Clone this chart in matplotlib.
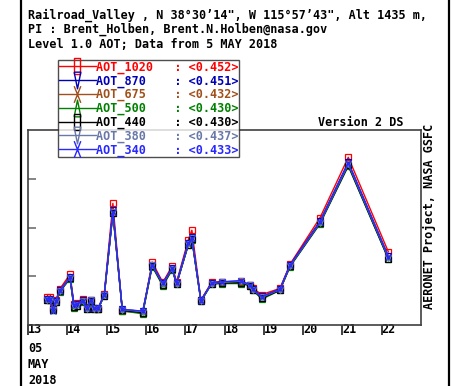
import matplotlib
matplotlib.use("Agg")
import matplotlib.pyplot as plt
from matplotlib.lines import Line2D
from matplotlib.path import Path

# measurement times (day of May 2018)
days = [13.48, 13.56, 13.64, 13.71, 13.81, 14.07, 14.17, 14.25, 14.39, 14.49,
        14.60, 14.68, 14.78, 14.94, 15.16, 15.40, 15.92, 16.16, 16.43, 16.67,
        16.78, 17.08, 17.17, 17.40, 17.67, 17.93, 18.41, 18.65, 18.72, 18.95,
        19.41, 19.67, 20.43, 21.15, 22.17]

aot_1020 = [0.115, 0.113, 0.068, 0.103, 0.148, 0.208, 0.086, 0.090, 0.108, 0.072,
            0.104, 0.070, 0.066, 0.128, 0.499, 0.057, 0.050, 0.258, 0.175, 0.242,
            0.176, 0.350, 0.389, 0.102, 0.175, 0.178, 0.176, 0.166, 0.150, 0.125,
            0.150, 0.250, 0.440, 0.688, 0.300]
aot_870 = [0.106, 0.105, 0.064, 0.098, 0.142, 0.197, 0.083, 0.087, 0.102, 0.070,
           0.103, 0.069, 0.068, 0.124, 0.470, 0.064, 0.056, 0.248, 0.172, 0.234,
           0.172, 0.338, 0.362, 0.101, 0.172, 0.177, 0.180, 0.165, 0.147, 0.117,
           0.147, 0.247, 0.426, 0.668, 0.282]
aot_675 = [0.104, 0.103, 0.063, 0.096, 0.139, 0.193, 0.076, 0.082, 0.098, 0.067,
           0.099, 0.066, 0.066, 0.122, 0.463, 0.061, 0.052, 0.244, 0.166, 0.230,
           0.169, 0.332, 0.354, 0.099, 0.170, 0.173, 0.175, 0.163, 0.145, 0.111,
           0.144, 0.243, 0.420, 0.658, 0.275]
aot_500 = [0.102, 0.101, 0.061, 0.094, 0.137, 0.190, 0.070, 0.077, 0.096, 0.065,
           0.096, 0.064, 0.064, 0.120, 0.458, 0.058, 0.046, 0.240, 0.160, 0.227,
           0.167, 0.328, 0.350, 0.097, 0.168, 0.170, 0.170, 0.161, 0.143, 0.106,
           0.142, 0.240, 0.415, 0.652, 0.270]
aot_440 = [0.103, 0.102, 0.062, 0.095, 0.138, 0.192, 0.074, 0.080, 0.097, 0.066,
           0.098, 0.066, 0.065, 0.121, 0.460, 0.060, 0.051, 0.243, 0.165, 0.229,
           0.168, 0.330, 0.352, 0.098, 0.169, 0.172, 0.174, 0.162, 0.144, 0.110,
           0.143, 0.242, 0.418, 0.655, 0.272]
aot_380 = [0.104, 0.104, 0.060, 0.096, 0.140, 0.194, 0.080, 0.084, 0.099, 0.067,
           0.101, 0.067, 0.067, 0.122, 0.462, 0.063, 0.055, 0.245, 0.169, 0.231,
           0.170, 0.333, 0.355, 0.099, 0.170, 0.175, 0.179, 0.163, 0.145, 0.114,
           0.145, 0.244, 0.420, 0.660, 0.276]
aot_340 = [0.105, 0.105, 0.059, 0.097, 0.141, 0.195, 0.082, 0.086, 0.100, 0.068,
           0.102, 0.068, 0.068, 0.123, 0.464, 0.064, 0.057, 0.246, 0.171, 0.232,
           0.171, 0.335, 0.357, 0.100, 0.171, 0.177, 0.182, 0.164, 0.146, 0.116,
           0.146, 0.246, 0.422, 0.664, 0.279]

names = ["AOT_1020", "AOT_870", "AOT_675", "AOT_500", "AOT_440", "AOT_380", "AOT_340"]
means = ["0.452", "0.451", "0.432", "0.430", "0.430", "0.437", "0.433"]
series = [aot_1020, aot_870, aot_675, aot_500, aot_440, aot_380, aot_340]
colors = ["#ff0000", "#0000b4", "#a0501a", "#008000", "#000000", "#6878a8", "#2828ff"]
markers = ["s", "v", "x", "^", "s", "v", "x"]

tick_days = [13, 14, 15, 16, 17, 18, 19, 20, 21, 22]

mono = {"family": "DejaVu Sans Mono", "weight": "bold", "size": 8.5}

# tall legend symbols like the AERONET plots
rect = [(-0.4, -1), (0.4, -1), (0.4, 1), (-0.4, 1), (-0.4, -1)]
vdown = [(-0.4, 1), (0.4, 1), (0, -1), (-0.4, 1)]
vup = [(-0.4, -1), (0.4, -1), (0, 1), (-0.4, -1)]
cross = Path([(-0.4, -1), (0.4, 1), (-0.4, 1), (0.4, -1)],
             [Path.MOVETO, Path.LINETO, Path.MOVETO, Path.LINETO])
leg_markers = [rect, vdown, cross, vup, rect, vdown, cross]

fig = plt.figure(figsize=(4.53, 3.86), dpi=100)
W, H = 453.0, 386.0
ax = fig.add_axes([28 / W, 1 - 325 / H, (421 - 28) / W, (325 - 130) / H])

for vals, c, m in zip(series, colors, markers):
    ax.plot(days, vals, color=c, lw=1.0, marker=m, ms=4, mfc="none", mew=0.9)

ax.set_xlim(13, 23)
ax.set_ylim(0, 0.8)
ax.set_yticks([0.2, 0.4, 0.6])
ax.set_yticklabels([])
ax.tick_params(axis="y", direction="in", length=6, width=1.2, color="#707070",
               right=False)
ax.set_xticks(tick_days)
ax.set_xticklabels([str(d) for d in tick_days], fontdict=mono)
ax.tick_params(axis="x", direction="out", length=7.2, width=1.2, color="#202020",
               pad=-8.6)
for lab in ax.get_xticklabels():
    lab.set_ha("left")
for s in ax.spines.values():
    s.set_color("#404040")
    s.set_linewidth(1.2)

handles = [Line2D([], [], color=c, lw=1.0, marker=m, ms=12, mfc="none", mec=c, mew=1.0)
           for c, m in zip(colors, leg_markers)]
labels = []
for n, v in zip(names, means):
    labels.append(n.ljust(11) + ": <" + v + ">")
leg = ax.legend(handles, labels, loc="upper left",
                bbox_to_anchor=(58 / W, 1 - 60 / H), bbox_transform=fig.transFigure,
                prop=mono, frameon=True, fancybox=False, borderpad=0.05,
                borderaxespad=0, handlelength=3.2, handletextpad=0.0,
                labelspacing=0.04, markerscale=1.0)
leg.get_frame().set_edgecolor("#202020")
leg.get_frame().set_linewidth(1.0)
for t, c in zip(leg.get_texts(), colors):
    t.set_color(c)

# header text
header = ["Railroad_Valley , N 38\u00b030\u201914\", W 115\u00b057\u201943\", Alt 1435 m,",
          "PI : Brent_Holben, Brent.N.Holben@nasa.gov",
          "Level 1.0 AOT; Data from 5 MAY 2018"]
for i, line in enumerate(header):
    fig.text(28 / W, 1 - (15 + 14.5 * i) / H, line, ha="left", va="center", **mono)

fig.text(403 / W, 1 - 123 / H, "Version 2 DS", ha="right", va="center", **mono)
fig.text(430 / W, 1 - 216 / H, "AERONET Project, NASA GSFC", ha="center", va="center",
         rotation=90, **mono)
for i, line in enumerate(["05", "MAY", "2018"]):
    fig.text(28 / W, 1 - (348 + 16 * i) / H, line, ha="left", va="center", **mono)

# frame lines at the image sides
fig.add_artist(Line2D([21 / W, 21 / W], [0, 1], color="black", lw=1.6,
                      transform=fig.transFigure))
fig.add_artist(Line2D([448.5 / W, 448.5 / W], [0, 1], color="black", lw=1.6,
                      transform=fig.transFigure))

plt.savefig("out.png", dpi=100)
